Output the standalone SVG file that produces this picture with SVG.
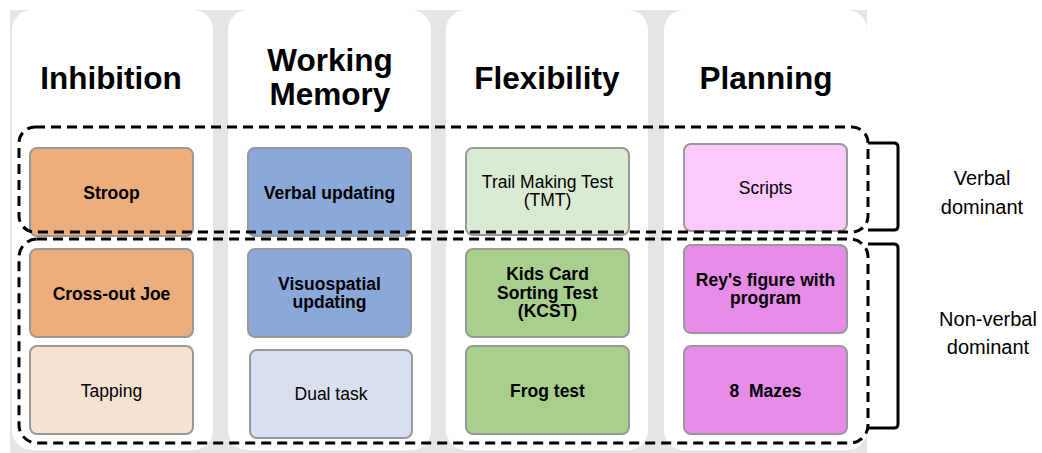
<svg xmlns="http://www.w3.org/2000/svg" width="1042" height="453" viewBox="0 0 1042 453">
<style>
.col{fill:#ffffff}
.title{font-family:"Liberation Sans",Arial,sans-serif;font-weight:bold;font-size:31.5px;fill:#000;text-anchor:middle}
.box{stroke:#999999;stroke-width:2}
.t{font-family:"Liberation Sans",Arial,sans-serif;font-size:17.5px;fill:#000;text-anchor:middle}
.b{font-weight:bold}
.dash{fill:none;stroke:#000;stroke-width:3;stroke-dasharray:10 6}
.brace{fill:none;stroke:#000;stroke-width:3}
.side{font-family:"Liberation Sans",Arial,sans-serif;font-size:20px;fill:#000;text-anchor:middle}
</style>
<rect x="0" y="0" width="1042" height="453" fill="#ffffff"/>
<rect x="10" y="10" width="857" height="443" fill="#e5e5e5"/>
<g id="columns">
<rect class="col" x="12" y="10" width="201" height="440" rx="20"/>
<rect class="col" x="228" y="10" width="203" height="440" rx="20"/>
<rect class="col" x="446" y="10" width="202" height="440" rx="20"/>
<rect class="col" x="664" y="10" width="203" height="440" rx="20"/>
</g>
<g id="titles">
<text class="title" x="111" y="89">Inhibition</text>
<text class="title" x="330" y="71">Working</text>
<text class="title" x="330" y="105">Memory</text>
<text class="title" x="547" y="89">Flexibility</text>
<text class="title" x="766" y="89">Planning</text>
</g>
<g id="stroop"><rect class="box" x="30" y="148" width="163" height="88" rx="7" fill="#ecae7d"/><text class="t b" x="111.5" y="199">Stroop</text></g>
<g id="verbal-updating"><rect class="box" x="248" y="148" width="163" height="88" rx="7" fill="#8aa8d8"/><text class="t b" x="329.5" y="199">Verbal updating</text></g>
<g id="tmt"><rect class="box" x="466" y="148" width="163" height="87" rx="7" fill="#dbead3"/><text class="t" x="547.5" y="188">Trail Making Test</text><text class="t" x="547.5" y="206">(TMT)</text></g>
<g id="scripts"><rect class="box" x="684" y="144" width="163" height="87" rx="7" fill="#fdc8fa"/><text class="t" x="765.5" y="194">Scripts</text></g>
<g id="cross-out-joe"><rect class="box" x="30" y="249" width="163" height="88" rx="7" fill="#ecae7d"/><text class="t b" x="111.5" y="299.5">Cross-out Joe</text></g>
<g id="visuospatial"><rect class="box" x="248" y="249" width="163" height="88" rx="7" fill="#8aa8d8"/><text class="t b" x="329.5" y="290">Visuospatial</text><text class="t b" x="329.5" y="308">updating</text></g>
<g id="kcst"><rect class="box" x="466" y="249" width="163" height="88" rx="7" fill="#a8cf8c"/><text class="t b" x="547.5" y="280">Kids Card</text><text class="t b" x="547.5" y="299">Sorting Test</text><text class="t b" x="547.5" y="317">(KCST)</text></g>
<g id="rey"><rect class="box" x="684" y="245" width="163" height="88" rx="7" fill="#e88ce9"/><text class="t b" x="765.5" y="286">Rey's figure with</text><text class="t b" x="765.5" y="304">program</text></g>
<g id="tapping"><rect class="box" x="30" y="346" width="163" height="88" rx="7" fill="#f7e1d0"/><text class="t" x="111.5" y="397">Tapping</text></g>
<g id="dual-task"><rect class="box" x="250" y="350" width="162" height="88" rx="7" fill="#d9dff0"/><text class="t" x="331" y="400">Dual task</text></g>
<g id="frog"><rect class="box" x="466" y="346" width="163" height="88" rx="7" fill="#a8cf8c"/><text class="t b" x="547.5" y="397">Frog test</text></g>
<g id="mazes"><rect class="box" x="684" y="346" width="163" height="88" rx="7" fill="#e88ce9"/><text class="t b" x="765.5" y="397" xml:space="preserve">8  Mazes</text></g>
<g id="connectors">
<rect class="dash" x="19" y="127" width="849" height="105" rx="16"/>
<rect class="dash" x="19" y="239" width="849" height="204" rx="18"/>
<path class="brace" d="M868 143 H894 Q898 143 898 147 V226 Q898 230 894 230 H868"/>
<path class="brace" d="M868 244 H894 Q898 244 898 248 V424 Q898 428 894 428 H868"/>
</g>
<g id="labels">
<text class="side" x="982" y="185">Verbal</text>
<text class="side" x="982" y="214">dominant</text>
<text class="side" x="988" y="326">Non-verbal</text>
<text class="side" x="988" y="354">dominant</text>
</g>
</svg>
